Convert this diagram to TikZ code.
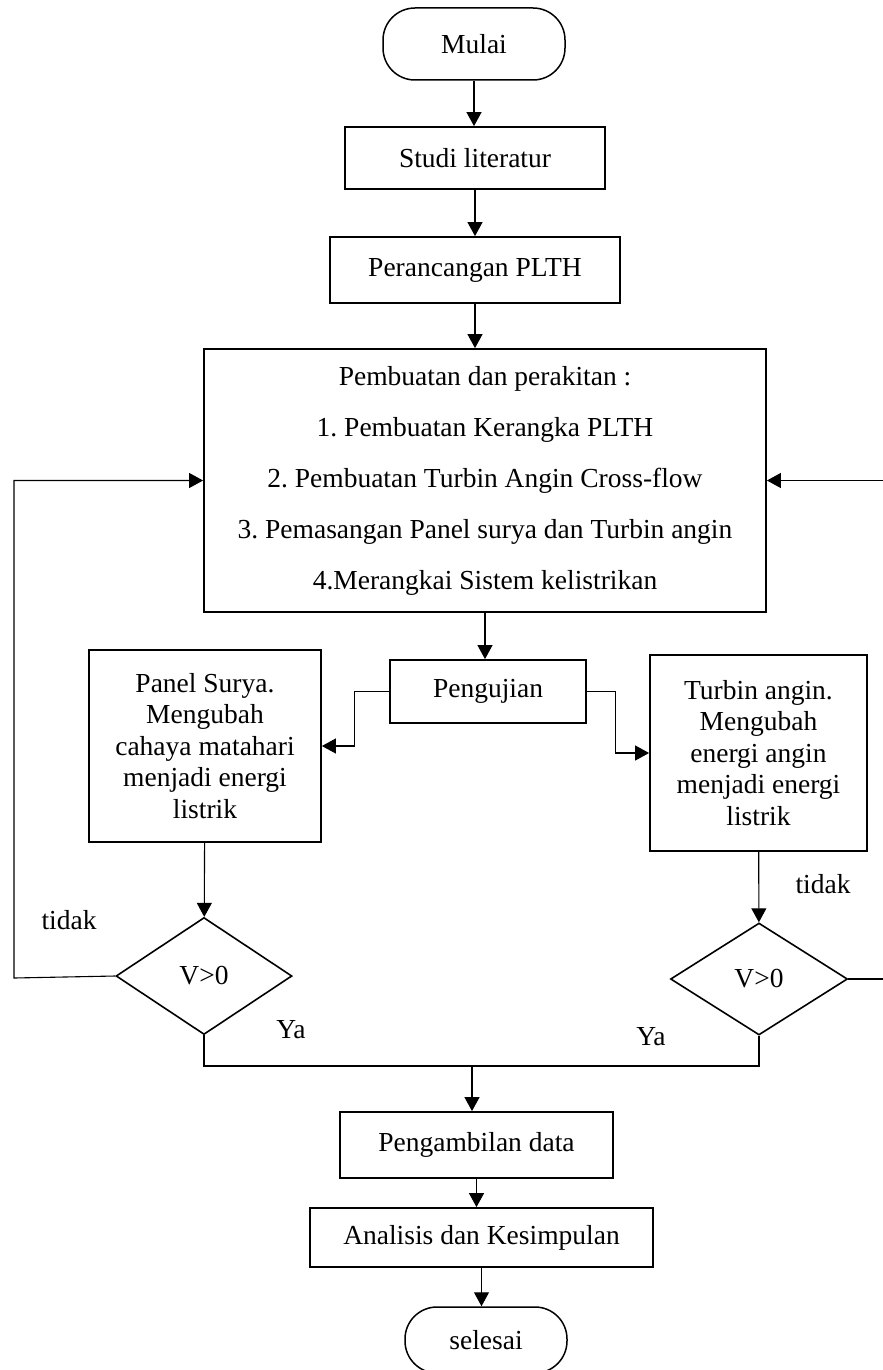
\documentclass[tikz,border=0pt]{standalone}
\usepackage{fontspec}
\setmainfont{Liberation Serif}
\usetikzlibrary{arrows.meta,shapes.geometric}
\frenchspacing

\begin{document}
\begin{tikzpicture}[
        x=1pt, y=-1pt,
        >={Triangle[length=14pt,width=15pt]},
        every node/.style={font=\fontsize{27.5}{31.5}\selectfont},
        box/.style={draw, line width=1.8pt, align=center, inner sep=0pt},
        terminal/.style={box, line width=1.5pt, rounded corners=32pt},
        decision/.style={draw, diamond, line width=1.6pt, inner sep=0pt},
        rel/.style={->, line width=1.1pt},
        line/.style={line width=1.1pt}
    ]
        \useasboundingbox (0,0) rectangle (883,1370);

        \node[terminal, minimum width=182pt, minimum height=72pt] (mulai) at (474, 44) {Mulai};
        \node[box, minimum width=260pt, minimum height=62pt] (studi) at (475, 158) {Studi literatur};
        \node[box, minimum width=290pt, minimum height=66pt] (perancangan) at (475, 270) {Perancangan PLTH};

        \node[box, minimum width=562pt, minimum height=263pt, font=\fontsize{27.5}{51}\selectfont] (pembuatan) at (485, 480.5) {Pembuatan dan perakitan :\\1. Pembuatan Kerangka PLTH\\2. Pembuatan Turbin Angin Cross-flow\\3. Pemasangan Panel surya dan Turbin angin\\4.Merangkai Sistem kelistrikan};

        \node[box, minimum width=196pt, minimum height=63pt] (pengujian) at (488, 691.5) {Pengujian};
        \node[box, minimum width=232pt, minimum height=192pt] (panel) at (205, 746) {Panel Surya.\\Mengubah\\cahaya matahari\\menjadi energi\\listrik};
        \node[box, minimum width=217pt, minimum height=196pt] (turbin) at (758.5, 753) {Turbin angin.\\Mengubah\\energi angin\\menjadi energi\\listrik};

        \node[decision, minimum width=176pt, minimum height=117pt] (cek-panel) at (204, 976) {V>0};
        \node[decision, minimum width=177pt, minimum height=112pt] (cek-turbin) at (759, 979) {V>0};

        \node (tidak-kiri) at (69, 920) {tidak};
        \node (tidak-kanan) at (823, 884) {tidak};
        \node (ya-kiri) at (291, 1030) {Ya};
        \node (ya-kanan) at (651, 1037) {Ya};

        \node[box, minimum width=273pt, minimum height=66pt] (pengambilan) at (476.5, 1145) {Pengambilan data};
        \node[box, minimum width=343pt, minimum height=59pt] (analisis) at (481.5, 1237.5) {Analisis dan Kesimpulan};
        \node[terminal, minimum width=162pt, minimum height=66pt] (selesai) at (486, 1340) {selesai};

        \coordinate (balik-kiri) at (14, 978);
        \coordinate (balik-kanan) at (893, 979);
        \coordinate (gabung) at (472, 1066);

        \draw[rel] (mulai.south) -- (mulai.south |- studi.north);
        \draw[rel] (studi.south) -- (studi.south |- perancangan.north);
        \draw[rel] (perancangan.south) -- (perancangan.south |- pembuatan.north);
        \draw[rel] (pembuatan.south) -- (pembuatan.south |- pengujian.north);

        \draw[rel] (pengujian.west) -- ++(-35,0) |- (panel.east);
        \draw[rel] (pengujian.east) -- ++(29,0) |- (turbin.west);

        \draw[rel] (panel) -- (cek-panel);
        \draw[rel] (turbin) -- (cek-turbin);

        \draw[rel] (cek-panel.west) -- (balik-kiri) |- (pembuatan.west);
        \draw[rel] (cek-turbin.east) -- (balik-kanan) |- (pembuatan.east);

        \draw[line] (cek-panel.south) |- (gabung);
        \draw[line] (cek-turbin.south) |- (gabung);
        \draw[rel] (gabung) -- (gabung |- pengambilan.north);

        \draw[rel] (pengambilan.south) -- (pengambilan.south |- analisis.north);
        \draw[rel] (analisis.south) -- (analisis.south |- selesai.north);
    \end{tikzpicture}
\end{document}
